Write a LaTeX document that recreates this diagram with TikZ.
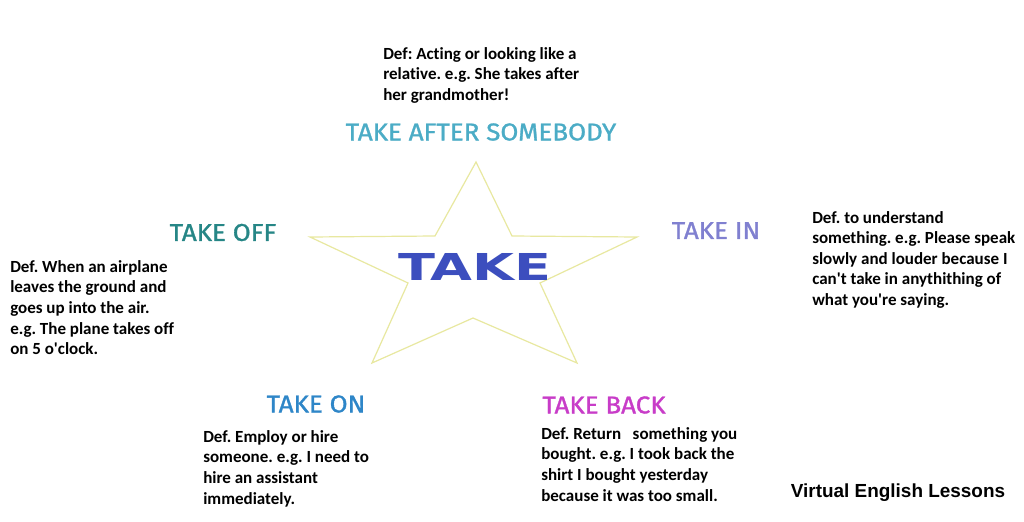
\documentclass[tikz,border=0pt]{standalone}
\usepackage{fontspec}
\setmainfont{Carlito}[Ligatures={NoCommon,NoContextual}]
\newfontfamily\titlefont{Fira Sans}[FakeStretch=1.07,FakeBold=1.2]
\newfontfamily\takefont{DejaVu Sans}[FakeStretch=1.46]
\newfontfamily\signfont{Liberation Sans}

\definecolor{stellagialla}{RGB}{232,232,160}
\definecolor{blutake}{RGB}{60,78,190}
\definecolor{colafter}{RGB}{75,172,198}
\definecolor{coloff}{RGB}{38,134,134}
\definecolor{colin}{RGB}{128,128,208}
\definecolor{colon}{RGB}{46,134,200}
\definecolor{colback}{RGB}{200,60,200}

\begin{document}
\frenchspacing
\begin{tikzpicture}[x=0.75pt,y=-0.75pt,
    titolo/.style={inner sep=0pt,font=\titlefont\fontsize{18.2}{21}\selectfont},
    defn/.style={anchor=north west,inner sep=0pt,align=left,
        font=\bfseries\fontsize{12.75}{15.45}\selectfont}]
        \useasboundingbox[fill=white] (0,0) rectangle (1024,521);

        %%%%%%%%%% Stella %%%%%%%%%%
        \draw[stellagialla,line width=0.9pt,line join=miter]
            (476,162) -- (512,236) -- (637,237) -- (540,283) -- (577,363)
            -- (473,318) -- (372,363) -- (408,283) -- (310,237) -- (435,236) -- cycle;
        \node[inner sep=0pt,text=blutake,font=\takefont\bfseries\fontsize{27.8}{30}\selectfont] (take) at (475,267) {TAKE};

        %%%%%%%%%% Titoli %%%%%%%%%%
        \node[titolo,text=colafter] (after) at (481,132) {TAKE AFTER SOMEBODY};
        \node[titolo,text=coloff] (off) at (223,232.5) {TAKE OFF};
        \node[titolo,text=colin] (in) at (716,230.5) {TAKE IN};
        \node[titolo,text=colon] (on) at (316,404) {TAKE ON};
        \node[titolo,text=colback] (back) at (604,405) {TAKE BACK};

        %%%%%%%%% Definizioni %%%%%%%%%
        \node[defn] (defafter) at (383,47) {Def: Acting or looking like a\\relative. e.g. She takes after\\her grandmother!};
        \node[defn] (defoff) at (10,260) {Def. When an airplane\\leaves the ground and\\goes up into the air.\\e.g. The plane takes off\\on 5 o\textquotesingle clock.};
        \node[defn] (defin) at (812,211) {Def. to understand\\something. e.g. Please speak\\slowly and louder because I\\can\textquotesingle t take in anythithing of\\what you\textquotesingle re saying.};
        \node[defn] (defon) at (203,430) {Def. Employ or hire\\someone. e.g. I need to\\hire an assistant\\immediately.};
        \node[defn] (defback) at (541,427) {Def. Return\ \ \ something you\\bought. e.g. I took back the\\shirt I bought yesterday\\because it was too small.};

        \node[anchor=base,inner sep=0pt,font=\signfont\bfseries\fontsize{14.2}{16}\selectfont] (firma) at (898,497) {Virtual English Lessons};
    \end{tikzpicture}
\end{document}
